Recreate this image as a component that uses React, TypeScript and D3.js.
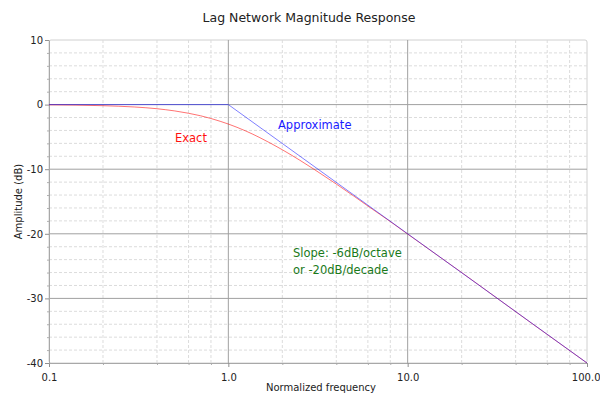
import React, { useEffect, useRef } from 'react';
import * as d3 from 'd3';

// values (dB vs normalized frequency)
const exactFreq = [0.1, 0.2, 0.3, 0.4, 0.5, 0.6, 0.7, 0.8, 0.9, 1, 1.25, 1.5, 2, 2.5, 3, 4, 5, 6, 8, 10, 20, 50, 100];
const exactDb = [-0.04, -0.17, -0.37, -0.64, -0.97, -1.34, -1.73, -2.15, -2.58, -3.01, -4.08, -5.12, -6.99, -8.6, -10, -12.3, -14.15, -15.7, -18.1, -20.04, -26, -34, -40];
const approxFreq = [0.1, 1, 100];
const approxDb = [0, 0, -40];
const xTickValues = [0.1, 1, 10, 100];
const xTickLabels = ['0.1', '1.0', '10.0', '100.0'];
const yTickValues = [10, 0, -10, -20, -30, -40];

const W = 600;
const H = 397;
const margin = { top: 40, right: 13, bottom: 34, left: 49 };
const FONT = '"DejaVu Sans", Verdana, sans-serif';

export default function App() {
  const svgRef = useRef<SVGSVGElement>(null);

  useEffect(() => {
    if (!svgRef.current) return;
    const svg = d3.select(svgRef.current);
    svg.selectAll('*').remove();

    const x = d3.scaleLog().domain([0.1, 100]).range([margin.left, W - margin.right]);
    const y = d3.scaleLinear().domain([-40, 10]).range([H - margin.bottom, margin.top]);
    const [x0, x1] = x.range();
    const [y0, y1] = y.range();

    svg.append('rect').attr('width', W).attr('height', H).attr('fill', '#fff');

    // title
    svg.append('text')
      .attr('x', 309).attr('y', 22)
      .attr('text-anchor', 'middle')
      .attr('font-family', FONT).attr('font-size', 12.5)
      .attr('fill', '#222')
      .text('Lag Network Magnitude Response');

    // frame
    svg.append('rect')
      .attr('x', x0).attr('y', y1)
      .attr('width', x1 - x0).attr('height', y0 - y1)
      .attr('rx', 2)
      .attr('fill', 'none').attr('stroke', '#d0d0d0');

    const grid = svg.append('g');
    // minor vertical grid
    const minorX: number[] = [];
    [0.1, 1, 10].forEach(d => [2, 4, 6, 8].forEach(m => minorX.push(d * m)));
    grid.selectAll('line.mx').data(minorX).join('line')
      .attr('x1', d => x(d)).attr('x2', d => x(d))
      .attr('y1', y1).attr('y2', y0)
      .attr('stroke', '#dcdcdc').attr('stroke-dasharray', '3,2');
    // minor horizontal grid
    const minorY = d3.range(-38, 10, 2).filter(v => v % 10 !== 0);
    grid.selectAll('line.my').data(minorY).join('line')
      .attr('x1', x0).attr('x2', x1)
      .attr('y1', d => y(d)).attr('y2', d => y(d))
      .attr('stroke', '#dcdcdc').attr('stroke-dasharray', '3,2');
    // major grid
    grid.selectAll('line.Mx').data([1, 10]).join('line')
      .attr('x1', d => x(d)).attr('x2', d => x(d))
      .attr('y1', y1).attr('y2', y0)
      .attr('stroke', '#a0a0a0');
    grid.selectAll('line.My').data([0, -10, -20, -30]).join('line')
      .attr('x1', x0).attr('x2', x1)
      .attr('y1', d => y(d)).attr('y2', d => y(d))
      .attr('stroke', '#a0a0a0');

    // minor axis ticks
    svg.append('g').attr('transform', `translate(0,${y0})`)
      .call(d3.axisBottom(x).tickValues(minorX).tickFormat(() => '').tickSize(2).tickSizeOuter(0))
      .call(g => g.select('.domain').remove())
      .selectAll('.tick line').attr('stroke', '#b0b0b0');
    svg.append('g').attr('transform', `translate(${x0},0)`)
      .call(d3.axisLeft(y).tickValues(minorY).tickFormat(() => '').tickSize(2).tickSizeOuter(0))
      .call(g => g.select('.domain').remove())
      .selectAll('.tick line').attr('stroke', '#b0b0b0');

    // axes
    const xAxis = d3.axisBottom(x)
      .tickValues(xTickValues)
      .tickFormat((d, i) => xTickLabels[i])
      .tickSize(4).tickSizeOuter(0).tickPadding(7);
    const gx = svg.append('g').attr('transform', `translate(0,${y0})`).call(xAxis);
    const yAxis = d3.axisLeft(y).tickValues(yTickValues)
      .tickFormat(d => String(d))
      .tickSize(4).tickSizeOuter(0).tickPadding(2);
    const gy = svg.append('g').attr('transform', `translate(${x0},0)`).call(yAxis);
    [gx, gy].forEach(g => {
      g.select('.domain').attr('stroke', '#a8a8a8');
      g.selectAll('.tick line').attr('stroke', '#909090');
      g.selectAll('.tick text')
        .attr('font-family', FONT).attr('font-size', 10).attr('fill', '#222');
    });
    // last label sits against the right edge
    gx.selectAll('.tick text').filter((d: any) => d === 100).attr('text-anchor', 'end').attr('x', 13);

    // axis titles
    svg.append('text')
      .attr('x', 321).attr('y', 391)
      .attr('text-anchor', 'middle')
      .attr('font-family', FONT).attr('font-size', 10).attr('fill', '#222')
      .text('Normalized frequency');
    svg.append('text')
      .attr('transform', `translate(22,${(y0 + y1) / 2}) rotate(-90)`)
      .attr('text-anchor', 'middle')
      .attr('font-family', FONT).attr('font-size', 10).attr('fill', '#222')
      .text('Amplitude (dB)');

    // series
    const line = d3.line<[number, number]>()
      .x(d => x(d[0])).y(d => y(d[1]));
    const exact: [number, number][] = exactFreq.map((f, i) => [f, exactDb[i]]);
    const approx: [number, number][] = approxFreq.map((f, i) => [f, approxDb[i]]);

    svg.append('path')
      .attr('d', line.curve(d3.curveMonotoneX)(exact))
      .attr('fill', 'none').attr('stroke', '#ff0000').attr('stroke-opacity', 0.55).attr('stroke-width', 1);
    svg.append('path')
      .attr('d', line.curve(d3.curveLinear)(approx))
      .attr('fill', 'none').attr('stroke', '#0000ff').attr('stroke-opacity', 0.5).attr('stroke-width', 1);

    // annotations
    const note = (tx: number, ty: number, txt: string, c: string) =>
      svg.append('text')
        .attr('x', tx).attr('y', ty)
        .attr('font-family', FONT).attr('font-size', 11.5).attr('fill', c)
        .text(txt);
    note(175, 142, 'Exact', '#ff1010');
    note(278, 129, 'Approximate', '#1a1aff');
    note(293, 257, 'Slope: -6dB/octave', '#1a7a1a');
    note(293, 274, 'or -20dB/decade', '#1a7a1a');
  }, []);

  return (
    <svg ref={svgRef} width={W} height={H}
      style={{ position: 'absolute', left: 0, top: 0, display: 'block' }} />
  );
}
